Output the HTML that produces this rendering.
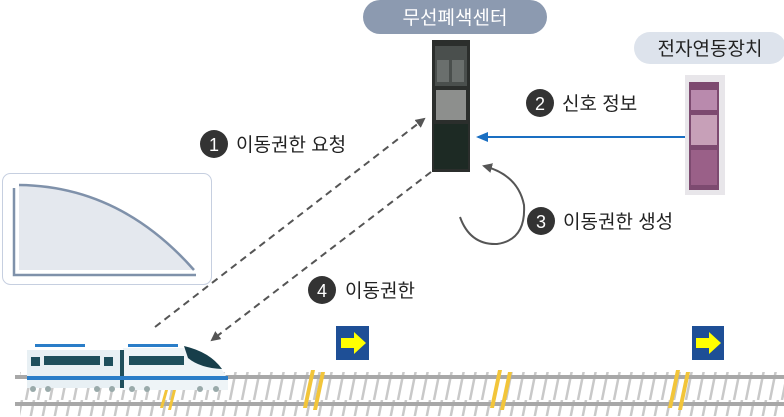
<!DOCTYPE html>
<html><head><meta charset="utf-8"><style>
html,body{margin:0;padding:0;background:#fff;}
svg{display:block;}
text{font-family:"Liberation Sans","Noto Sans CJK KR",sans-serif;}
</style></head><body>
<svg width="784" height="417" viewBox="0 0 784 417" xmlns="http://www.w3.org/2000/svg">
<defs>
<marker id="ag" markerWidth="10" markerHeight="10" refX="8" refY="5" orient="auto" markerUnits="userSpaceOnUse"><path d="M0,0 L10,5 L0,10 z" fill="#555"/></marker>
<marker id="ab" markerWidth="12" markerHeight="10" refX="10" refY="5" orient="auto" markerUnits="userSpaceOnUse"><path d="M0,0 L12,5 L0,10 z" fill="#1a6fc2"/></marker>
<pattern id="ties" width="12" height="40" patternUnits="userSpaceOnUse"><path d="M2,40 L10,0" stroke="#c9c9c9" stroke-width="2.5"/></pattern>
</defs>
<!-- chart box -->
<rect x="2.5" y="173.5" width="209" height="111" rx="8" fill="#fff" stroke="#c6cfe0"/>
<path d="M19,185 Q120,186 194,270 L19,270 Z" fill="#e4e8ee"/>
<path d="M19,185 Q120,186 194,270" fill="none" stroke="#7f91aa" stroke-width="2.5"/>
<path d="M14,188 L14,275 L196,275" fill="none" stroke="#7f91aa" stroke-width="2.5"/>
<!-- pills -->
<rect x="363" y="0" width="184" height="34" rx="17" fill="#8c9ab0"/>
<text x="455" y="24" font-size="19" fill="#fff" text-anchor="middle">무선폐색센터</text>
<rect x="634" y="32" width="152" height="32" rx="16" fill="#dde3ec"/>
<text x="710" y="55" font-size="19" fill="#222" text-anchor="middle">전자연동장치</text>
<!-- rack 1 -->
<rect x="432" y="40" width="38" height="132" fill="#2b2e2c"/>
<rect x="435" y="46" width="32" height="40" fill="#4a4f4d"/>
<rect x="437" y="60" width="12" height="22" fill="#6a6f6d"/>
<rect x="452" y="60" width="12" height="22" fill="#6a6f6d"/>
<rect x="436" y="90" width="30" height="30" fill="#8d8f8d"/>
<rect x="434" y="124" width="34" height="45" fill="#1d2a24"/>
<!-- rack 2 -->
<rect x="685" y="75" width="40" height="120" fill="#e8e6ea"/>
<rect x="689" y="82" width="30" height="108" fill="#7d4a70"/>
<rect x="691" y="90" width="26" height="20" fill="#b98aad"/>
<rect x="691" y="115" width="26" height="30" fill="#c7a0b8"/>
<rect x="691" y="150" width="26" height="35" fill="#9a6088"/>
<!-- blue arrow -->
<line x1="685" y1="137" x2="478" y2="137" stroke="#1a6fc2" stroke-width="2" marker-end="url(#ab)"/>
<!-- dashed -->
<line x1="155" y1="327" x2="424" y2="119" stroke="#555" stroke-width="2" stroke-dasharray="7,5" marker-end="url(#ag)"/>
<line x1="431" y1="172" x2="212" y2="340" stroke="#555" stroke-width="2" stroke-dasharray="7,5" marker-end="url(#ag)"/>
<!-- loop -->
<path d="M460,217 Q470,245 497,244 Q526,240 524,205 Q518,175 484,166" fill="none" stroke="#555" stroke-width="2" marker-end="url(#ag)"/>
<!-- labels -->
<g font-size="19" fill="#222">
<circle cx="214" cy="144" r="14" fill="#333"/><text x="214" y="151" fill="#fff" font-size="18" text-anchor="middle">1</text>
<text x="236" y="151">이동권한 요청</text>
<circle cx="540" cy="103" r="14" fill="#333"/><text x="540" y="110" fill="#fff" font-size="18" text-anchor="middle">2</text>
<text x="562" y="110">신호 정보</text>
<circle cx="541" cy="221" r="14" fill="#333"/><text x="541" y="228" fill="#fff" font-size="18" text-anchor="middle">3</text>
<text x="563" y="228">이동권한 생성</text>
<circle cx="322" cy="290" r="14" fill="#333"/><text x="322" y="297" fill="#fff" font-size="18" text-anchor="middle">4</text>
<text x="345" y="297">이동권한</text>
</g>
<!-- track -->
<rect x="20" y="372" width="764" height="44" fill="url(#ties)"/>
<rect x="15" y="375" width="769" height="4" fill="#a8a8a8"/>
<rect x="15" y="402" width="769" height="4" fill="#a8a8a8"/>
<!-- balises -->
<g fill="#f2c53a">
<path d="M160,408 L165,390 L168,390 L163,408Z"/><path d="M168,410 L173,390 L176,390 L171,410Z"/>
<path d="M303,408 L311,370 L315,370 L307,408Z"/><path d="M313,410 L321,372 L325,372 L317,410Z"/>
<path d="M490,408 L498,370 L502,370 L494,408Z"/><path d="M500,410 L508,372 L512,372 L504,410Z"/>
<path d="M668,408 L676,370 L680,370 L672,408Z"/><path d="M678,410 L686,372 L690,372 L682,410Z"/>
</g>
<!-- signs -->
<rect x="336" y="326" width="33" height="34" fill="#1e4f96"/>
<path d="M341,338 L354,338 L354,332 L366,343 L354,354 L354,348 L341,348Z" fill="#ffff00"/>
<rect x="692" y="326" width="32" height="34" fill="#1e4f96"/>
<path d="M696,338 L709,338 L709,332 L721,343 L709,354 L709,348 L696,348Z" fill="#ffff00"/>
<!-- train -->
<rect x="35" y="344" width="50" height="3" fill="#2a7dc8"/>
<rect x="128" y="344" width="50" height="3" fill="#2a7dc8"/>
<path d="M27,350 L120,350 L120,388 L27,388Z" fill="#e8f0f4"/>
<path d="M123,348 L182,348 Q215,352 228,380 L228,390 L123,390Z" fill="#eef4f7"/>
<path d="M184,346 Q210,352 222,369 Q200,368 188,358Z" fill="#173e4a"/>
<rect x="44" y="356" width="56" height="9" fill="#1f4f5c"/>
<rect x="31" y="357" width="9" height="9" fill="#1f4f5c"/>
<rect x="104" y="357" width="9" height="9" fill="#1f4f5c"/>
<rect x="129" y="356" width="55" height="9" fill="#1f4f5c"/>
<rect x="120" y="350" width="4" height="38" fill="#1f4f5c"/>
<rect x="27" y="376" width="201" height="4" fill="#2a7dc8"/>
<g fill="#9aa">
<circle cx="33" cy="389" r="3"/><circle cx="48" cy="389" r="3"/><circle cx="97" cy="389" r="3"/><circle cx="112" cy="389" r="3"/>
<circle cx="132" cy="389" r="3"/><circle cx="147" cy="389" r="3"/><circle cx="200" cy="389" r="3"/><circle cx="216" cy="389" r="3"/>
</g>
</svg>
</body></html>
